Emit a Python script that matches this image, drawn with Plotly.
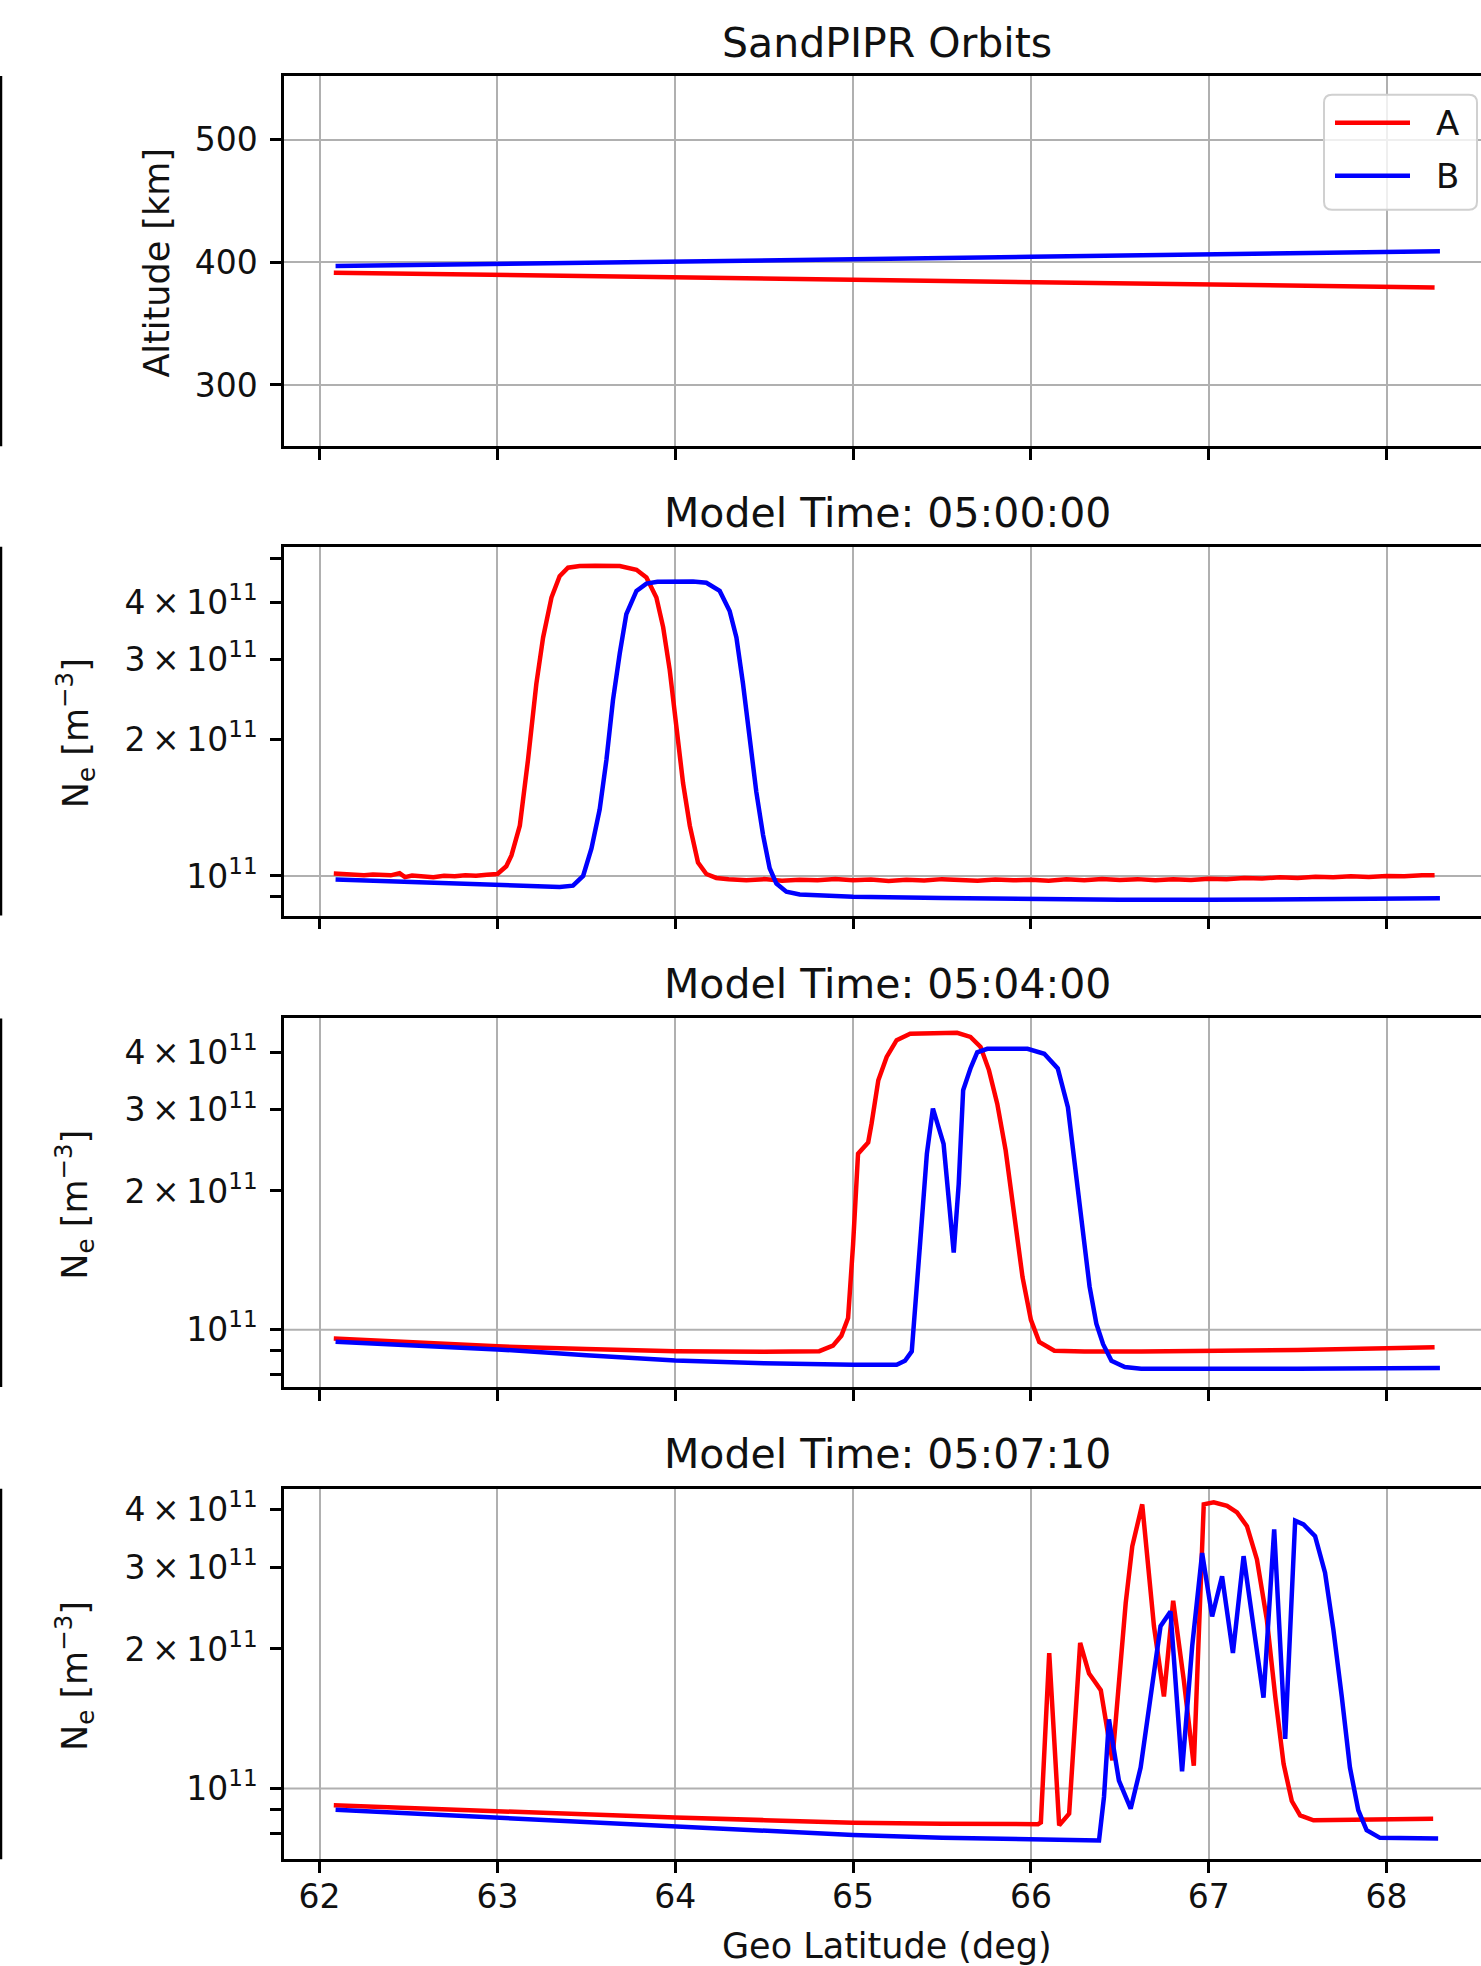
import plotly.graph_objects as go

# ---------------- data ----------------
lat_ticks = [62, 63, 64, 65, 66, 67, 68]
series_names = ["A", "B"]

# Orbit altitudes [km]
alt_lat_a = [62.08, 63.0, 64.0, 65.0, 66.0, 67.0, 68.0, 68.27]
alt_a = [391.5, 389.8, 388.0, 386.0, 384.0, 382.0, 380.0, 379.5]
alt_lat_b = [62.09, 63.0, 64.0, 65.0, 66.0, 67.0, 68.0, 68.30]
alt_b = [397.0, 398.5, 400.5, 402.5, 404.5, 406.5, 408.5, 409.0]

# Electron density, model time 05:00:00 [x1e11 m^-3]
ne0500_lat_a = [62.08, 62.15, 62.20, 62.25, 62.30, 62.35, 62.40, 62.45, 62.48, 62.52,
                62.58, 62.64, 62.70, 62.76, 62.82, 62.88, 62.94, 63.00, 63.05, 63.079,
                63.126, 63.172, 63.219, 63.257, 63.304, 63.35, 63.397, 63.463, 63.55, 63.62,
                63.688, 63.782, 63.838, 63.894, 63.932, 63.969, 64.007, 64.044, 64.082, 64.128,
                64.175, 64.231, 64.30, 64.40, 64.50, 64.60, 64.70, 64.80, 64.90, 65.00,
                65.10, 65.20, 65.30, 65.40, 65.50, 65.60, 65.70, 65.80, 65.90, 66.00,
                66.10, 66.20, 66.30, 66.40, 66.50, 66.60, 66.70, 66.80, 66.90, 67.00,
                67.10, 67.20, 67.30, 67.40, 67.50, 67.60, 67.70, 67.80, 67.90, 68.00,
                68.10, 68.20, 68.27]
ne0500_a = [1.012, 1.008, 1.006, 1.004, 1.007, 1.005, 1.003, 1.014, 0.994, 1.002,
            1.000, 0.993, 1.001, 0.998, 1.004, 1.001, 1.006, 1.010, 1.05, 1.11,
            1.29, 1.80, 2.65, 3.35, 4.10, 4.57, 4.77, 4.81, 4.82, 4.82,
            4.81, 4.72, 4.54, 4.10, 3.53, 2.84, 2.10, 1.60, 1.29, 1.07,
            1.01, 0.99, 0.983, 0.978, 0.984, 0.976, 0.981, 0.979, 0.985, 0.978,
            0.982, 0.975, 0.981, 0.977, 0.984, 0.979, 0.976, 0.982, 0.978, 0.981,
            0.976, 0.983, 0.979, 0.985, 0.980, 0.984, 0.978, 0.983, 0.980, 0.986,
            0.983, 0.990, 0.987, 0.993, 0.990, 0.996, 0.993, 0.998, 0.995, 1.000,
            0.998, 1.003, 1.004]
ne0500_lat_b = [62.09, 62.40, 62.70, 63.00, 63.20, 63.35, 63.425, 63.482, 63.529, 63.575,
                63.613, 63.65, 63.688, 63.725, 63.782, 63.838, 63.90, 63.988, 64.10, 64.175,
                64.25, 64.306, 64.344, 64.381, 64.419, 64.456, 64.494, 64.531, 64.569, 64.625,
                64.70, 64.85, 65.00, 65.50, 66.00, 66.50, 67.00, 67.50, 68.00, 68.30]
ne0500_b = [0.982, 0.972, 0.963, 0.954, 0.949, 0.946, 0.952, 1.00, 1.15, 1.40,
            1.80, 2.44, 3.09, 3.77, 4.24, 4.40, 4.44, 4.45, 4.45, 4.42,
            4.24, 3.83, 3.35, 2.65, 2.03, 1.53, 1.23, 1.04, 0.962, 0.923,
            0.910, 0.903, 0.900, 0.894, 0.889, 0.886, 0.886, 0.888, 0.891, 0.893]

# Electron density, model time 05:04:00 [x1e11 m^-3]
ne0504_lat_a = [62.08, 62.50, 63.00, 63.50, 64.00, 64.50, 64.70, 64.81, 64.887, 64.934,
                64.972, 65.00, 65.028, 65.085, 65.104, 65.142, 65.189, 65.245, 65.321, 65.45,
                65.585, 65.66, 65.717, 65.764, 65.811, 65.858, 65.906, 65.953, 66.00, 66.047,
                66.132, 66.30, 66.62, 67.00, 67.50, 68.00, 68.27]
ne0504_a = [0.957, 0.940, 0.920, 0.908, 0.898, 0.895, 0.897, 0.898, 0.923, 0.970,
            1.06, 1.53, 2.41, 2.55, 2.80, 3.48, 3.91, 4.25, 4.39, 4.41,
            4.41, 4.32, 4.11, 3.66, 3.09, 2.45, 1.81, 1.30, 1.05, 0.94,
            0.900, 0.897, 0.897, 0.898, 0.903, 0.911, 0.916]
ne0504_lat_b = [62.09, 62.50, 63.00, 63.50, 64.00, 64.50, 64.70, 65.00, 65.245, 65.292,
                65.330, 65.349, 65.377, 65.415, 65.449, 65.509, 65.566, 65.594, 65.619, 65.66,
                65.698, 65.755, 65.981, 66.075, 66.151, 66.208, 66.245, 66.283, 66.33, 66.368,
                66.406, 66.453, 66.528, 66.62, 67.00, 67.50, 68.00, 68.30]
ne0504_b = [0.941, 0.925, 0.906, 0.880, 0.857, 0.845, 0.842, 0.839, 0.839, 0.856,
            0.897, 1.10, 1.54, 2.41, 3.02, 2.53, 1.47, 2.07, 3.31, 3.69,
            4.00, 4.07, 4.07, 3.97, 3.69, 3.04, 2.33, 1.76, 1.24, 1.03,
            0.930, 0.856, 0.830, 0.823, 0.822, 0.823, 0.825, 0.826]

# Electron density, model time 05:07:10 [x1e11 m^-3]
ne0507_lat_a = [62.08, 62.50, 63.00, 63.50, 64.00, 64.50, 65.00, 65.50, 66.00, 66.04,
                66.056, 66.103, 66.159, 66.215, 66.277, 66.327, 66.355, 66.393, 66.458, 66.495,
                66.533, 66.570, 66.626, 66.692, 66.748, 66.80, 66.86, 66.916, 66.972, 67.028,
                67.103, 67.159, 67.215, 67.271, 67.327, 67.374, 67.421, 67.467, 67.514, 67.589,
                67.80, 68.00, 68.262]
ne0507_a = [0.920, 0.907, 0.894, 0.880, 0.866, 0.855, 0.844, 0.840, 0.838, 0.838,
            0.845, 1.96, 0.833, 0.883, 2.06, 1.77, 1.71, 1.63, 1.15, 1.66,
            2.51, 3.33, 4.10, 2.24, 1.58, 2.54, 1.71, 1.12, 4.10, 4.14,
            4.07, 3.94, 3.68, 3.12, 2.31, 1.58, 1.13, 0.940, 0.875, 0.854,
            0.855, 0.857, 0.861]
ne0507_lat_b = [62.09, 62.50, 63.00, 63.50, 64.00, 64.50, 65.00, 65.50, 66.00, 66.383,
                66.411, 66.439, 66.495, 66.561, 66.617, 66.673, 66.729, 66.785, 66.85, 66.907,
                66.963, 67.019, 67.075, 67.136, 67.196, 67.308, 67.368, 67.43, 67.486, 67.533,
                67.598, 67.654, 67.701, 67.748, 67.794, 67.841, 67.888, 67.963, 68.10, 68.29]
ne0507_b = [0.900, 0.884, 0.866, 0.847, 0.828, 0.810, 0.794, 0.783, 0.775, 0.773,
            0.959, 1.41, 1.04, 0.905, 1.11, 1.61, 2.24, 2.41, 1.09, 2.03,
            3.22, 2.35, 2.87, 1.96, 3.17, 1.57, 3.62, 1.28, 3.78, 3.71,
            3.50, 2.92, 2.20, 1.58, 1.11, 0.898, 0.813, 0.783, 0.780, 0.780]

ne_tick_vals = [8e10, 9e10, 1e11, 2e11, 3e11, 4e11, 5e11]
ne_tick_text = ["", "", "10<sup>11</sup>",
                "2\u2009×\u200910<sup>11</sup>", "3\u2009×\u200910<sup>11</sup>",
                "4\u2009×\u200910<sup>11</sup>", ""]

titles = ["SandPIPR Orbits", "Model Time: 05:00:00", "Model Time: 05:04:00",
          "Model Time: 05:07:10"]

# ---------------- layout geometry ----------------
W, H = 1481, 1966
L = 284
FONT = "DejaVu Sans"
TXT = "#111111"
COLORS = ["#ff0000", "#0000ff"]

# panel tops / bottoms in pixels
panel_px = [(73, 444), (544.5, 914), (1017, 1386), (1488, 1859)]
ne_ranges = [[10.9127, 11.7248], [10.8758, 11.6756], [10.8478, 11.6465]]


def py(p):
    """pixel row -> paper y"""
    return 1 - p / H


def px(p):
    """pixel column -> paper x"""
    return (p - L) / (W - L)


fig = go.Figure()

scale = 1e11
series = [
    (alt_lat_a, alt_a, alt_lat_b, alt_b, 1.0),
    (ne0500_lat_a, ne0500_a, ne0500_lat_b, ne0500_b, scale),
    (ne0504_lat_a, ne0504_a, ne0504_lat_b, ne0504_b, scale),
    (ne0507_lat_a, ne0507_a, ne0507_lat_b, ne0507_b, scale),
]

for i, (xa, ya, xb, yb, s) in enumerate(series):
    ax = "" if i == 0 else str(i + 1)
    for name, color, xs, ys in ((series_names[0], COLORS[0], xa, ya),
                                (series_names[1], COLORS[1], xb, yb)):
        fig.add_trace(go.Scatter(x=xs, y=[v * s for v in ys], mode="lines", name=name,
                                 line=dict(color=color, width=4.5), showlegend=False,
                                 xaxis="x" + ax, yaxis="y" + ax))

tickfont = dict(family=FONT, size=33, color=TXT)
layout = dict(
    width=W, height=H, autosize=False,
    margin=dict(l=L, r=0, t=0, b=0, pad=0),
    paper_bgcolor="white", plot_bgcolor="white",
    font=dict(family=FONT, size=33, color=TXT),
    showlegend=False,
)

for i, (top, bot) in enumerate(panel_px):
    ax = "" if i == 0 else str(i + 1)
    layout["xaxis" + ax] = dict(
        domain=[0, 1], anchor="y" + ax, range=[61.80, 68.531],
        tickmode="array", tickvals=lat_ticks, ticktext=[str(t) for t in lat_ticks],
        showticklabels=(i == 3), showgrid=True, gridcolor="#b0b0b0", gridwidth=2,
        showline=True, mirror=True, linecolor="black", linewidth=2.5,
        ticks="outside", ticklen=11, tickwidth=2.5, tickcolor="black",
        zeroline=False, tickfont=tickfont, ticklabelstandoff=-5,
    )
    if i > 0:
        layout["xaxis" + ax]["matches"] = "x"
    yax = dict(
        domain=[py(bot), py(top)], anchor="x" + ax,
        showline=True, mirror=False, linecolor="black", linewidth=2.5,
        ticks="outside", ticklen=11, tickwidth=2.5, tickcolor="black",
        zeroline=False, tickfont=tickfont, ticklabelstandoff=6,
    )
    if i == 0:
        yax.update(range=[250, 552], tickmode="array", tickvals=[300, 400, 500],
                   showgrid=True, gridcolor="#b0b0b0", gridwidth=2)
    else:
        yax.update(type="log", range=ne_ranges[i - 1], tickmode="array",
                   tickvals=ne_tick_vals, ticktext=ne_tick_text, showgrid=False)
    layout["yaxis" + ax] = yax

fig.update_layout(**layout)

# horizontal grid line at the 1e11 decade on the density panels
for i in range(1, 4):
    ax = str(i + 1)
    r0, r1 = ne_ranges[i - 1]
    frac = (11 - r0) / (r1 - r0)
    fig.add_shape(type="line", xref="x" + ax + " domain", yref="y" + ax + " domain",
                  x0=0, x1=1, y0=frac, y1=frac, layer="below",
                  line=dict(color="#b0b0b0", width=2))

# spine of the neighbouring panel column at the far left edge
for top, bot in panel_px:
    fig.add_shape(type="line", xref="paper", yref="paper",
                  x0=px(1), x1=px(1), y0=py(bot), y1=py(top),
                  line=dict(color="black", width=2.5))

# legend box (rounded frame) in the top panel
bx0, bx1, by0, by1, rr = 1324, 1477, 92, 207, 8
frame = (f"M{px(bx0 + rr)},{py(by0)} L{px(bx1 - rr)},{py(by0)} "
         f"Q{px(bx1)},{py(by0)} {px(bx1)},{py(by0 + rr)} "
         f"L{px(bx1)},{py(by1 - rr)} Q{px(bx1)},{py(by1)} {px(bx1 - rr)},{py(by1)} "
         f"L{px(bx0 + rr)},{py(by1)} Q{px(bx0)},{py(by1)} {px(bx0)},{py(by1 - rr)} "
         f"L{px(bx0)},{py(by0 + rr)} Q{px(bx0)},{py(by0)} {px(bx0 + rr)},{py(by0)} Z")
fig.add_shape(type="path", path=frame, xref="paper", yref="paper",
              fillcolor="rgba(255,255,255,0.8)", line=dict(color="#d0d0d0", width=2))
for k, (name, color) in enumerate(zip(series_names, COLORS)):
    yk = 120 + 53 * k
    fig.add_shape(type="line", xref="paper", yref="paper",
                  x0=px(1335), x1=px(1410), y0=py(yk), y1=py(yk),
                  line=dict(color=color, width=4.5))
    fig.add_annotation(text=name, xref="paper", yref="paper", x=px(1434), y=py(yk),
                       xanchor="left", yanchor="middle", showarrow=False,
                       font=dict(family=FONT, size=34, color=TXT))

# panel titles
title_centers = [40, 511, 982, 1453]
for t, yc in zip(titles, title_centers):
    fig.add_annotation(text=t, xref="paper", yref="paper", x=px(887),
                       y=py(yc), xanchor="center", yanchor="middle", showarrow=False,
                       font=dict(family=FONT, size=41, color=TXT))

# y-axis labels
fig.add_annotation(text="Altitude [km]", xref="paper", yref="paper",
                   x=px(157), y=py(260), textangle=-90,
                   xanchor="center", yanchor="middle", showarrow=False,
                   font=dict(family=FONT, size=35, color=TXT))
for top, bot in panel_px[1:]:
    fig.add_annotation(text="N<sub>e</sub> [m<sup>−3</sup>]", xref="paper", yref="paper",
                       x=px(75), y=py((top + bot) / 2 + 2), textangle=-90,
                       xanchor="center", yanchor="middle", showarrow=False,
                       font=dict(family=FONT, size=35, color=TXT))

# x-axis label
fig.add_annotation(text="Geo Latitude (deg)", xref="paper", yref="paper",
                   x=px(887), y=py(1946), xanchor="center",
                   yanchor="middle", showarrow=False,
                   font=dict(family=FONT, size=35, color=TXT))

fig.write_html("out.html")
